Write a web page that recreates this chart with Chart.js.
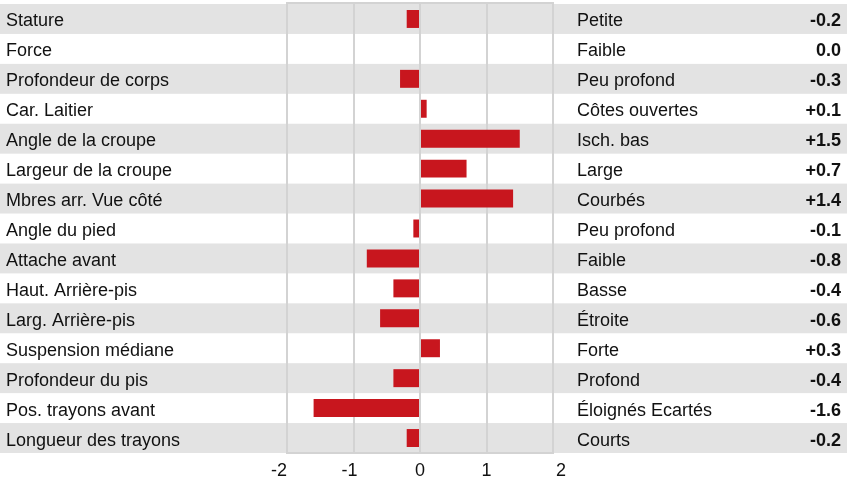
<!DOCTYPE html>
<html>
<head>
<meta charset="utf-8">
<script src="https://cdn.jsdelivr.net/npm/chart.js@4"></script>
<style>
  html, body { margin: 0; padding: 0; background: #fff; }
  #wrap { width: 867px; height: 481px; }
</style>
</head>
<body>
<div id="wrap"><canvas id="chart" width="867" height="481"></canvas></div>
<script>
const traits = [
    'Stature', 'Force', 'Profondeur de corps', 'Car. Laitier', 'Angle de la croupe',
    'Largeur de la croupe', 'Mbres arr. Vue côté', 'Angle du pied', 'Attache avant',
    'Haut. Arrière-pis', 'Larg. Arrière-pis', 'Suspension médiane', 'Profondeur du pis',
    'Pos. trayons avant', 'Longueur des trayons'
];
const descriptors = [
    'Petite', 'Faible', 'Peu profond', 'Côtes ouvertes', 'Isch. bas',
    'Large', 'Courbés', 'Peu profond', 'Faible', 'Basse',
    'Étroite', 'Forte', 'Profond', 'Éloignés Ecartés', 'Courts'
];
const scores = [-0.2, 0.0, -0.3, 0.1, 1.5, 0.7, 1.4, -0.1, -0.8, -0.4, -0.6, 0.3, -0.4, -1.6, -0.2];
const xTicks = [-2, -1, 0, 1, 2];

const FONT = '"Liberation Sans", Arial, Helvetica, sans-serif';
const BAND = '#e3e3e3';
const GRID = '#d3d3d3';
const INK = '#111';

const fmt = v => (v > 0 ? '+' : '') + v.toFixed(1);

const rowsPlugin = {
    id: 'rows',
    beforeDraw(chart) {
        const ctx = chart.ctx;
        const y = chart.scales.y;
        const area = chart.chartArea;
        const h = (area.bottom - area.top) / traits.length;
        ctx.save();
        ctx.fillStyle = BAND;
        traits.forEach((t, i) => {
            if (i % 2 === 0) {
                const cy = y.getPixelForValue(i);
                ctx.fillRect(0, cy - h / 2, 847, h);
            }
        });
        ctx.restore();
    },
    beforeDatasetsDraw(chart) {
        // top edge of the frame
        const ctx = chart.ctx;
        const area = chart.chartArea;
        ctx.save();
        ctx.strokeStyle = GRID;
        ctx.lineWidth = 2;
        ctx.beginPath();
        ctx.moveTo(area.left - 1, area.top - 1);
        ctx.lineTo(area.right + 1, area.top - 1);
        ctx.stroke();
        ctx.restore();
    },
    afterDraw(chart) {
        const ctx = chart.ctx;
        const y = chart.scales.y;
        const x = chart.scales.x;
        ctx.save();
        ctx.fillStyle = INK;
        ctx.textBaseline = 'alphabetic';
        traits.forEach((t, i) => {
            const base = y.getPixelForValue(i) + 7.5;
            ctx.font = '18px ' + FONT;
            ctx.textAlign = 'left';
            ctx.fillText(t, 6, base);
            ctx.fillText(descriptors[i], 577, base);
            ctx.font = 'bold 18px ' + FONT;
            ctx.textAlign = 'right';
            ctx.fillText(fmt(scores[i]), 841, base);
        });
        // bottom tick labels, outer ones pushed outside the frame
        ctx.font = '18px ' + FONT;
        xTicks.forEach((v, i) => {
            const px = x.getPixelForValue(v);
            if (i === 0) {
                ctx.textAlign = 'right';
                ctx.fillText(String(v), px, 476);
            } else if (i === xTicks.length - 1) {
                ctx.textAlign = 'left';
                ctx.fillText(String(v), px + 3, 476);
            } else {
                ctx.textAlign = 'center';
                ctx.fillText(String(v), px + (v < 0 ? -4 : 0), 476);
            }
        });
        ctx.restore();
    }
};

new Chart(document.getElementById('chart'), {
    type: 'bar',
    data: {
        labels: traits,
        datasets: [{
            data: scores,
            backgroundColor: '#c8161e',
            borderWidth: 0,
            barPercentage: 0.6,
            categoryPercentage: 1.0
        }]
    },
    options: {
        indexAxis: 'y',
        responsive: false,
        animation: false,
        layout: { padding: { left: 287, right: 314, top: 4, bottom: 0 } },
        plugins: { legend: { display: false }, tooltip: { enabled: false } },
        scales: {
            y: {
                display: false
            },
            x: {
                min: -2,
                max: 2,
                afterBuildTicks: s => { s.ticks = xTicks.map(v => ({ value: v })); },
                afterFit: s => { s.height = 28; },
                grid: { color: GRID, lineWidth: 2, drawTicks: false },
                border: { display: true, color: GRID, width: 2 },
                ticks: { display: false }
            }
        }
    },
    plugins: [rowsPlugin]
});
</script>
</body>
</html>
